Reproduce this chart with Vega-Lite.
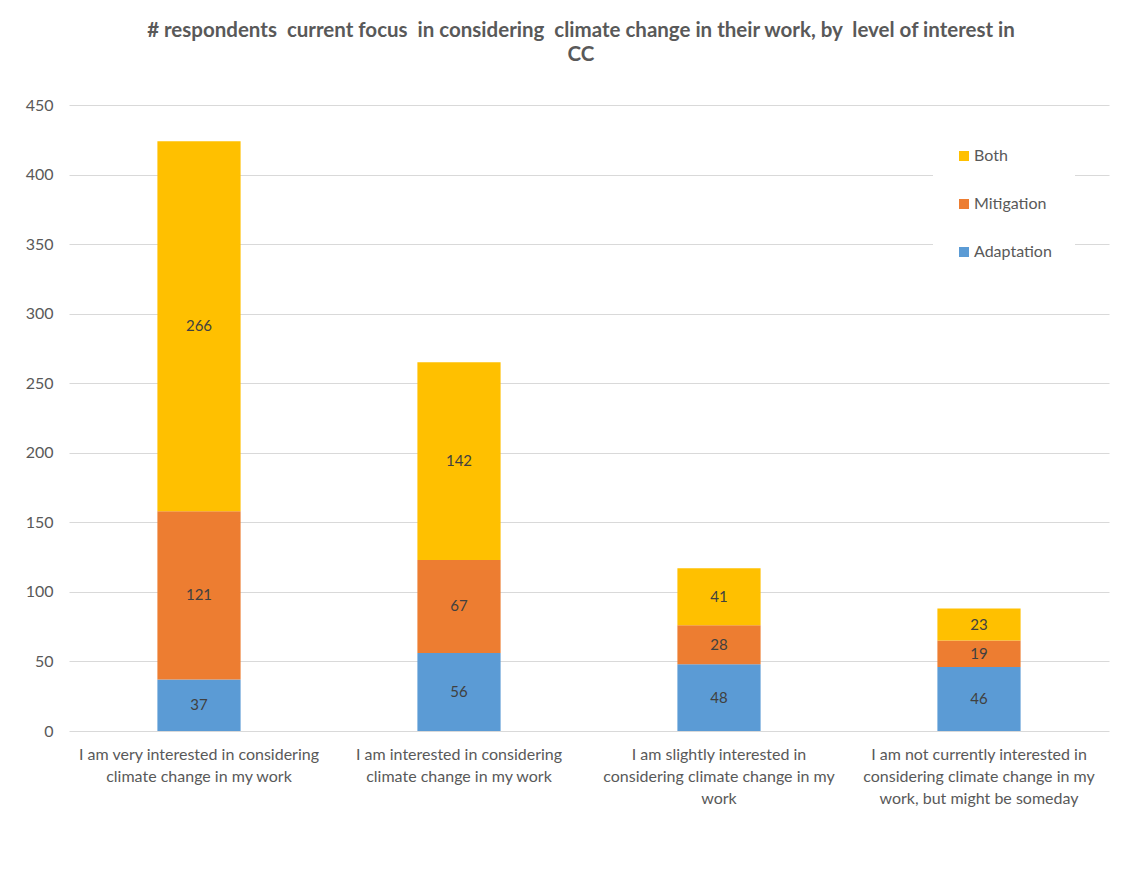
{
  "$schema": "https://vega.github.io/schema/vega-lite/v6.json",
  "width": 1040,
  "height": 626,
  "autosize": "none",
  "padding": {"left": 69, "top": 105, "right": 33, "bottom": 162},
  "background": "white",
  "config": {
    "font": "Lato",
    "view": {"stroke": null},
    "axis": {"labelFont": "Lato", "labelColor": "#595959", "labelFontSize": 16}
  },
  "title": {
    "text": ["# respondents \u00a0current focus \u00a0in considering \u00a0climate change in their work, by \u00a0level of interest in", "CC"],
    "font": "Lato",
    "fontSize": 20.5,
    "fontWeight": "bold",
    "color": "#595959",
    "anchor": "middle",
    "offset": 32,
    "dx": -8,
    "lineHeight": 24
  },
  "data": {
    "values": [
      {"cat": "I am very interested in considering climate change in my work", "series": "Adaptation", "value": 37},
      {"cat": "I am very interested in considering climate change in my work", "series": "Mitigation", "value": 121},
      {"cat": "I am very interested in considering climate change in my work", "series": "Both", "value": 266},
      {"cat": "I am interested in considering climate change in my work", "series": "Adaptation", "value": 56},
      {"cat": "I am interested in considering climate change in my work", "series": "Mitigation", "value": 67},
      {"cat": "I am interested in considering climate change in my work", "series": "Both", "value": 142},
      {"cat": "I am slightly interested in considering climate change in my work", "series": "Adaptation", "value": 48},
      {"cat": "I am slightly interested in considering climate change in my work", "series": "Mitigation", "value": 28},
      {"cat": "I am slightly interested in considering climate change in my work", "series": "Both", "value": 41},
      {"cat": "I am not currently interested in considering climate change in my work, but might be someday", "series": "Adaptation", "value": 46},
      {"cat": "I am not currently interested in considering climate change in my work, but might be someday", "series": "Mitigation", "value": 19},
      {"cat": "I am not currently interested in considering climate change in my work, but might be someday", "series": "Both", "value": 23}
    ]
  },
  "transform": [
    {"calculate": "indexof(['Adaptation','Mitigation','Both'], datum.series)", "as": "rank"},
    {"stack": "value", "groupby": ["cat"], "sort": [{"field": "rank", "order": "ascending"}], "as": ["v0", "v1"]},
    {"calculate": "(datum.v0 + datum.v1) / 2", "as": "mid"}
  ],
  "encoding": {
    "x": {
      "field": "cat",
      "type": "nominal",
      "sort": null,
      "title": null,
      "scale": {"paddingInner": 0.68, "paddingOuter": 0.34},
      "axis": {
        "labelAngle": 0,
        "ticks": false,
        "domain": false,
        "labelPadding": 15,
        "labelLineHeight": 22,
        "labelLimit": 400,
        "labelExpr": "datum.value == 'I am very interested in considering climate change in my work' ? ['I am very interested in considering', 'climate change in my work'] : datum.value == 'I am interested in considering climate change in my work' ? ['I am interested in considering', 'climate change in my work'] : datum.value == 'I am slightly interested in considering climate change in my work' ? ['I am slightly interested in', 'considering climate change in my', 'work'] : ['I am not currently interested in', 'considering climate change in my', 'work, but might be someday']"
      }
    }
  },
  "layer": [
    {
      "mark": {"type": "bar"},
      "encoding": {
        "y": {
          "field": "v0",
          "type": "quantitative",
          "title": null,
          "scale": {"domain": [0, 450]},
          "axis": {
            "values": [0, 50, 100, 150, 200, 250, 300, 350, 400, 450],
            "ticks": false,
            "domain": false,
            "gridColor": "#D9D9D9",
            "gridWidth": 1,
            "labelPadding": 16
          }
        },
        "y2": {"field": "v1"},
        "color": {
          "field": "series",
          "type": "nominal",
          "scale": {"domain": ["Both", "Mitigation", "Adaptation"], "range": ["#FFC000", "#ED7D31", "#5B9BD5"]},
          "legend": {
            "title": null,
            "orient": "none",
            "legendX": 864,
            "legendY": 20,
            "fillColor": "white",
            "padding": 23,
            "symbolType": "square",
            "symbolSize": 100,
            "symbolStrokeWidth": 0,
            "labelFont": "Lato",
            "labelFontSize": 16,
            "labelColor": "#595959",
            "labelOffset": 2,
            "rowPadding": 32
          }
        }
      }
    },
    {
      "mark": {"type": "text", "font": "Lato", "fontSize": 15, "color": "#404040", "baseline": "middle"},
      "encoding": {
        "y": {"field": "mid", "type": "quantitative"},
        "text": {"field": "value", "type": "quantitative"}
      }
    }
  ]
}
